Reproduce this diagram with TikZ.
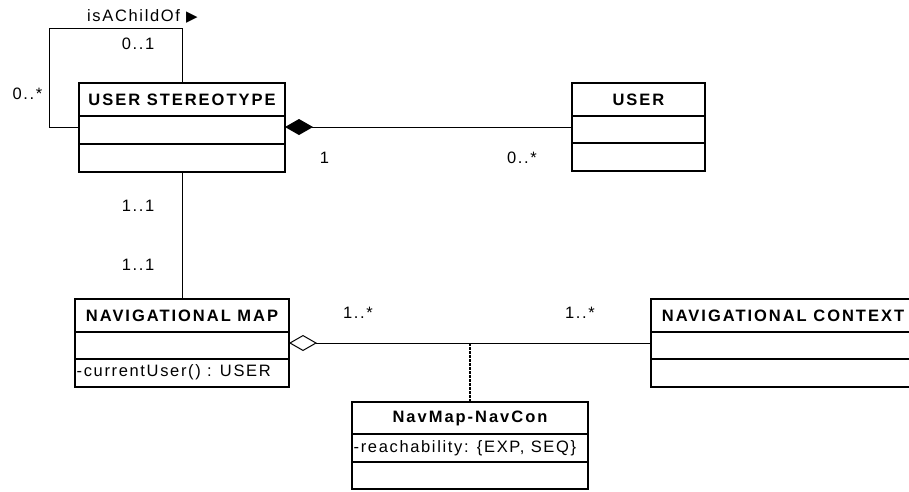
\documentclass[tikz,border=0pt]{standalone}
\usepackage{fontspec}
\setmainfont{Liberation Sans}
\newfontfamily\lblfont[LetterSpace=10]{Liberation Sans}
\newfontfamily\ttlfontfam[LetterSpace=12]{Liberation Sans}
\newfontfamily\symfont{DejaVu Sans}
\usetikzlibrary{arrows.meta}
\begin{document}
\begin{tikzpicture}[x=1pt,y=-1pt,
  box/.style={draw, line width=1.6pt, inner sep=0pt, outer sep=0pt, anchor=north west},
  ttl/.style={font=\fontsize{16.5}{19}\selectfont\ttlfontfam\bfseries},
  txt/.style={font=\fontsize{16.5}{19}\selectfont\lblfont},
  conn/.style={line width=1pt},
  comp/.style={conn, {Diamond[length=28pt,width=16pt]}-},
  aggr/.style={conn, {Diamond[open,fill=white,length=28pt,width=16pt]}-},
  linkline/.style={line width=1.2pt, dash pattern=on 3pt off 1pt}]
\useasboundingbox (0,0) rectangle (909,491);
\clip (0,0) rectangle (909,491);
% USER STEREOTYPE
\node[box, minimum width=206pt, minimum height=33pt, ttl] (us) at (79,83) {USER STEREOTYPE};
\node[box, minimum width=206pt, minimum height=28pt] (usa) at (us.south west) {};
\node[box, minimum width=206pt, minimum height=28pt] (uso) at (usa.south west) {};
% USER
\node[box, minimum width=133pt, minimum height=33pt, ttl] (ur) at (572,83) {USER};
\node[box, minimum width=133pt, minimum height=27pt] (ura) at (ur.south west) {};
\node[box, minimum width=133pt, minimum height=28pt] (uro) at (ura.south west) {};
% NAVIGATIONAL MAP
\node[box, minimum width=214pt, minimum height=33pt, ttl] (nm) at (75,299) {NAVIGATIONAL MAP};
\node[box, minimum width=214pt, minimum height=27pt] (nma) at (nm.south west) {};
\node[box, minimum width=214pt, minimum height=28pt] (nmo) at (nma.south west) {};
\node[txt, anchor=base west, inner sep=0pt] (nmop) at (76.5,376.7) {-currentUser() : USER};
% NAVIGATIONAL CONTEXT
\node[box, minimum width=264pt, minimum height=33pt, ttl] (nc) at (651,299) {NAVIGATIONAL CONTEXT};
\node[box, minimum width=264pt, minimum height=27pt] (nca) at (nc.south west) {};
\node[box, minimum width=264pt, minimum height=28pt] (nco) at (nca.south west) {};
% NavMap-NavCon
\node[box, minimum width=236pt, minimum height=32pt, ttl] (ac) at (352,402) {NavMap-NavCon};
\node[box, minimum width=236pt, minimum height=28pt] (aca) at (ac.south west) {};
\node[box, minimum width=236pt, minimum height=27pt] (aco) at (aca.south west) {};
\node[txt, anchor=base west, inner sep=0pt] (acat) at (353.5,452.3) {-reachability: \{EXP, SEQ\}};
% connector levels
\coordinate (cy) at (0,127);
\coordinate (ay) at (0,343);
\coordinate (lx) at (49,28);
\coordinate (mid) at (470,343);
% self association
\draw[conn] (us.west |- cy) -| (lx) -| (us.north);
% composition
\draw[comp] (usa.east |- cy) -- (ura.west |- cy);
% user stereotype - navigational map
\draw[conn] (uso.south) -- (nm.north);
% aggregation
\draw[aggr] (nma.east |- ay) -- (nca.west |- ay);
% association class link
\draw[linkline] (mid) -- (ac.north);
% labels
\node[txt, anchor=base west, inner sep=0pt] (isa) at (87,21.7) {isAChildOf {\fontsize{15}{15}\selectfont\symfont ▶}};
\node[txt, inner sep=0pt] (m01) at (138,44) {0..1};
\node[txt, inner sep=0pt] (m0s) at (27.5,94) {0..*};
\node[txt, inner sep=0pt] (m1) at (324.5,158) {1};
\node[txt, inner sep=0pt] (m0s2) at (522,158) {0..*};
\node[txt, inner sep=0pt] (m11a) at (138,206) {1..1};
\node[txt, inner sep=0pt] (m11b) at (138,265) {1..1};
\node[txt, inner sep=0pt] (m1sa) at (358,313) {1..*};
\node[txt, inner sep=0pt] (m1sb) at (580,313) {1..*};
\end{tikzpicture}
\end{document}
